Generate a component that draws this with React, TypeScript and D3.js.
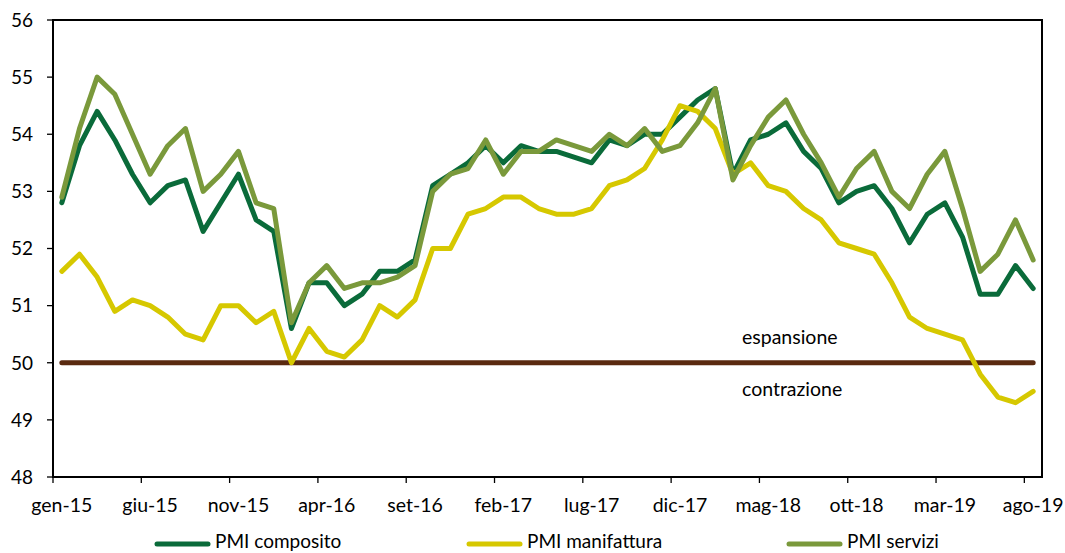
import React from "react";
import * as d3 from "d3";

const months = ["gen","feb","mar","apr","mag","giu","lug","ago","set","ott","nov","dic"];
const categories: string[] = [];
for (let y = 15; y <= 19; y++) for (let m = 0; m < 12; m++) {
  if (y === 19 && m > 7) break;
  categories.push(`${months[m]}-${y}`);
}

const composito = [52.8,53.8,54.4,53.9,53.3,52.8,53.1,53.2,52.3,52.8,53.3,52.5,
  52.3,50.6,51.4,51.4,51.0,51.2,51.6,51.6,51.8,53.1,53.3,53.5,
  53.8,53.5,53.8,53.7,53.7,53.6,53.5,53.9,53.8,54.0,54.0,54.3,
  54.6,54.8,53.3,53.9,54.0,54.2,53.7,53.4,52.8,53.0,53.1,52.7,
  52.1,52.6,52.8,52.2,51.2,51.2,51.7,51.3];
const manifattura = [51.6,51.9,51.5,50.9,51.1,51.0,50.8,50.5,50.4,51.0,51.0,50.7,
  50.9,50.0,50.6,50.2,50.1,50.4,51.0,50.8,51.1,52.0,52.0,52.6,
  52.7,52.9,52.9,52.7,52.6,52.6,52.7,53.1,53.2,53.4,53.9,54.5,
  54.4,54.1,53.3,53.5,53.1,53.0,52.7,52.5,52.1,52.0,51.9,51.4,
  50.8,50.6,50.5,50.4,49.8,49.4,49.3,49.5];
const servizi = [52.9,54.1,55.0,54.7,54.0,53.3,53.8,54.1,53.0,53.3,53.7,52.8,
  52.7,50.7,51.4,51.7,51.3,51.4,51.4,51.5,51.7,53.0,53.3,53.4,
  53.9,53.3,53.7,53.7,53.9,53.8,53.7,54.0,53.8,54.1,53.7,53.8,
  54.2,54.8,53.2,53.8,54.3,54.6,54.0,53.5,52.9,53.4,53.7,53.0,
  52.7,53.3,53.7,52.7,51.6,51.9,52.5,51.8];
const soglia = 50;
const yTicks = [48,49,50,51,52,53,54,55,56];
const xLabelIdx = [0,5,10,15,20,25,30,35,40,45,50,55];

const seriesList = [
  { name: "PMI composito", values: composito, color: "#0a6b3a" },
  { name: "PMI manifattura", values: manifattura, color: "#d6c800" },
  { name: "PMI servizi", values: servizi, color: "#7a993b" },
];

const W = 1065, H = 553;
const left = 53, right = 1042, top = 20, bottom = 477;
const font = "Lato, 'Open Sans', sans-serif";

export default function App() {
  const x = d3.scaleBand<string>().domain(categories).range([left, right]);
  const cx = (i: number) => (x(categories[i]) as number) + x.bandwidth() / 2;
  const y = d3.scaleLinear().domain([48, 56]).range([bottom, top]);
  const line = d3.line<number>().x((_, i) => cx(i)).y(d => y(d));
  const boundaries = xLabelIdx.map(i => x(categories[i]) as number);
  const legendX = [157, 469, 789];

  return (
    <svg width={W} height={H} style={{ position: "absolute", left: 0, top: 0 }} fontFamily={font}>
      <rect width={W} height={H} fill="#fff" />
      <rect x={left} y={top} width={right - left} height={bottom - top} fill="none" stroke="#000" strokeWidth={2} />
      {yTicks.map(t => (
        <g key={t}>
          <line x1={left - 6} x2={left} y1={y(t)} y2={y(t)} stroke="#000" strokeWidth={1.3} />
          <text x={33} y={y(t)} dy="0.36em" textAnchor="end" fontSize={19} fill="#000">{t}</text>
        </g>
      ))}
      {boundaries.map((b, k) => (
        <line key={k} x1={b} x2={b} y1={bottom} y2={bottom + 6} stroke="#000" strokeWidth={1.3} />
      ))}
      {xLabelIdx.map(i => (
        <text key={i} x={cx(i)} y={512} textAnchor="middle" fontSize={19.5} fill="#000">{categories[i]}</text>
      ))}
      <line x1={cx(0)} x2={cx(categories.length - 1)} y1={y(soglia)} y2={y(soglia)} stroke="#5a2a10" strokeWidth={5} strokeLinecap="round" />
      <text x={742} y={344} fontSize={19.5} fill="#000">espansione</text>
      <text x={742} y={396} fontSize={19.5} fill="#000">contrazione</text>
      {seriesList.map(s => (
        <path key={s.name} d={line(s.values) || ""} fill="none" stroke={s.color} strokeWidth={5} strokeLinejoin="round" strokeLinecap="round" />
      ))}
      {seriesList.map((s, k) => (
        <g key={s.name}>
          <line x1={legendX[k]} x2={legendX[k] + 51} y1={544} y2={544} stroke={s.color} strokeWidth={5} strokeLinecap="round" />
          <text x={legendX[k] + 58} y={548} fontSize={19} fill="#000">{s.name}</text>
        </g>
      ))}
    </svg>
  );
}
